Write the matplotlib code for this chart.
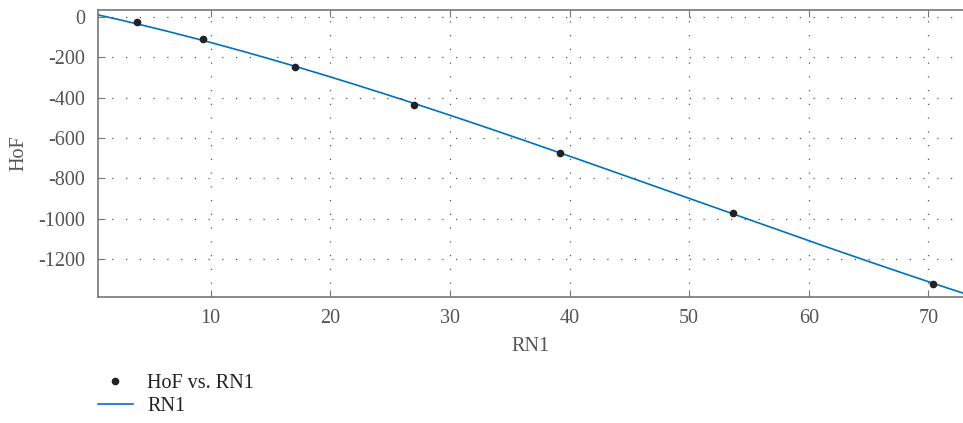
import numpy as np
import matplotlib.pyplot as plt

plt.rcParams['font.family'] = ['Liberation Serif', 'DejaVu Serif']
plt.rcParams['axes.unicode_minus'] = False

# measured points
rn1 = [3.84, 9.36, 17.05, 27.0, 39.2, 53.7, 70.4]
hof = [-25, -109, -246, -436, -674, -973, -1322]

# anchor point where the fitted curve starts
rn1_fit = [0.55] + rn1
hof_fit = [0] + hof
coef = np.polyfit(rn1_fit, hof_fit, deg=3)
p = np.poly1d(coef)

xmin, xmax = 0.55, 72.9
xs = np.linspace(xmin, xmax, 300)

txt = '#555555'
spine = '#777777'

fig = plt.figure(figsize=(9.63, 4.23), dpi=100)
ax = fig.add_axes([0.1015, 0.2986, 0.8985, 0.6789])

ax.plot(rn1, hof, 'o', color='#222222', markersize=4.5, label='HoF vs. RN1', zorder=3)
ax.plot(xs, p(xs), color='#0072BD', linewidth=1.2, label='RN1')

ax.set_xlim(xmin, xmax)
ax.set_ylim(-1387, 37)
ax.set_xticks([10, 20, 30, 40, 50, 60, 70])
ax.set_yticks([0, -200, -400, -600, -800, -1000, -1200])

ax.grid(True, linestyle=(0, (1, 10)), color='#555555', linewidth=0.9)
ax.tick_params(axis='both', direction='in', length=5, color=spine, labelcolor=txt,
               labelsize=14.5, top=True, right=False)
ax.tick_params(axis='x', pad=9)
ax.tick_params(axis='y', pad=9)
for s in ['left', 'bottom', 'top']:
    ax.spines[s].set_color(spine)
    ax.spines[s].set_linewidth(1.2)
ax.spines['right'].set_visible(False)

ax.set_xlabel('RN1', fontsize=14.5, color=txt, labelpad=6)
ax.set_ylabel('HoF', fontsize=14.5, color=txt, labelpad=7)

leg = ax.legend(loc='upper left', bbox_to_anchor=(-0.021, -0.207), frameon=False,
                fontsize=14.5, handlelength=1.75, handletextpad=0.7, labelspacing=0.2)
for t in leg.get_texts():
    t.set_color('#222222')

fig.savefig('out.png', dpi=100)
